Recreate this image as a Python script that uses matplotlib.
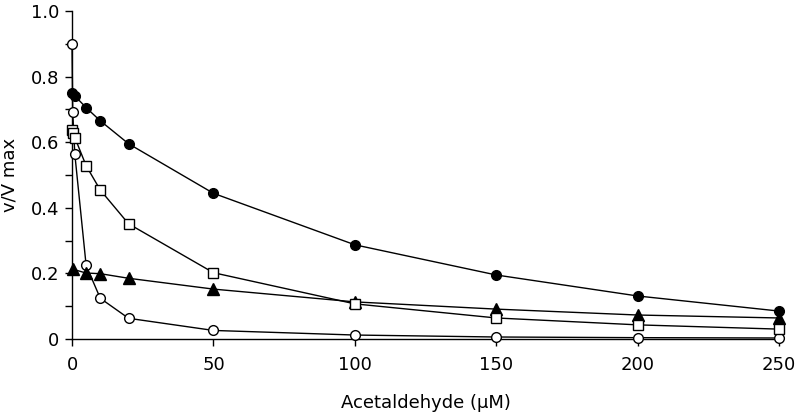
import matplotlib
matplotlib.use("Agg")
import matplotlib.pyplot as plt
from matplotlib.ticker import MultipleLocator, FuncFormatter

# Data
x_filled_circle = [0, 1, 5, 10, 20, 50, 100, 150, 200, 250]
y_filled_circle = [0.751, 0.741, 0.705, 0.665, 0.595, 0.444, 0.287, 0.195, 0.131, 0.085]

x_open_square = [0, 0.5, 1, 5, 10, 20, 50, 100, 150, 200, 250]
y_open_square = [0.636, 0.628, 0.614, 0.528, 0.454, 0.351, 0.202, 0.107, 0.064, 0.043, 0.030]

x_filled_triangle = [0.5, 5, 10, 20, 50, 100, 150, 200, 250]
y_filled_triangle = [0.212, 0.201, 0.199, 0.185, 0.152, 0.113, 0.091, 0.073, 0.064]

x_open_circle = [0, 0.25, 1, 5, 10, 20, 50, 100, 150, 200, 250]
y_open_circle = [0.899, 0.692, 0.563, 0.224, 0.124, 0.063, 0.026, 0.012, 0.006, 0.004, 0.003]

x_ticks = [0, 50, 100, 150, 200, 250]
y_ticks = [0, 0.2, 0.4, 0.6, 0.8, 1.0]

plt.rcParams['font.family'] = ['DejaVu Sans']

fig = plt.figure(figsize=(8, 4.19), dpi=100)
ax = fig.add_axes([0.09, 0.191, 0.884, 0.783])

common = dict(color='black', linewidth=1.0, markeredgewidth=1.0,
              markeredgecolor='black', clip_on=False)
ax.plot(x_open_circle, y_open_circle, marker='o', markersize=7, markerfacecolor='white', zorder=3, **common)
ax.plot(x_filled_triangle, y_filled_triangle, marker='^', markersize=8.5, markerfacecolor='black', zorder=4, **common)
ax.plot(x_open_square, y_open_square, marker='s', markersize=6.5, markerfacecolor='white', zorder=5, **common)
ax.plot(x_filled_circle, y_filled_circle, marker='o', markersize=7, markerfacecolor='black', zorder=6, **common)

ax.set_xlim(0, 250)
ax.set_ylim(0, 1.0)
ax.set_xticks(x_ticks)
ax.set_yticks(y_ticks)
ax.yaxis.set_minor_locator(MultipleLocator(0.1))
ax.yaxis.set_major_formatter(FuncFormatter(lambda v, p: '0' if abs(v) < 1e-9 else f'{v:.1f}'))

for s in ['top', 'right']:
    ax.spines[s].set_visible(False)
for s in ['left', 'bottom']:
    ax.spines[s].set_linewidth(1.0)

ax.tick_params(axis='both', which='both', direction='out', length=5, width=1.0,
               labelsize=13, colors='black')
ax.tick_params(axis='x', pad=7)
ax.tick_params(axis='y', pad=4)

ax.set_xlabel('Acetaldehyde (\u03bcM)', fontsize=13, labelpad=15)
ax.set_ylabel('v/V max', fontsize=13, labelpad=9)

fig.savefig('out.png', dpi=100)
